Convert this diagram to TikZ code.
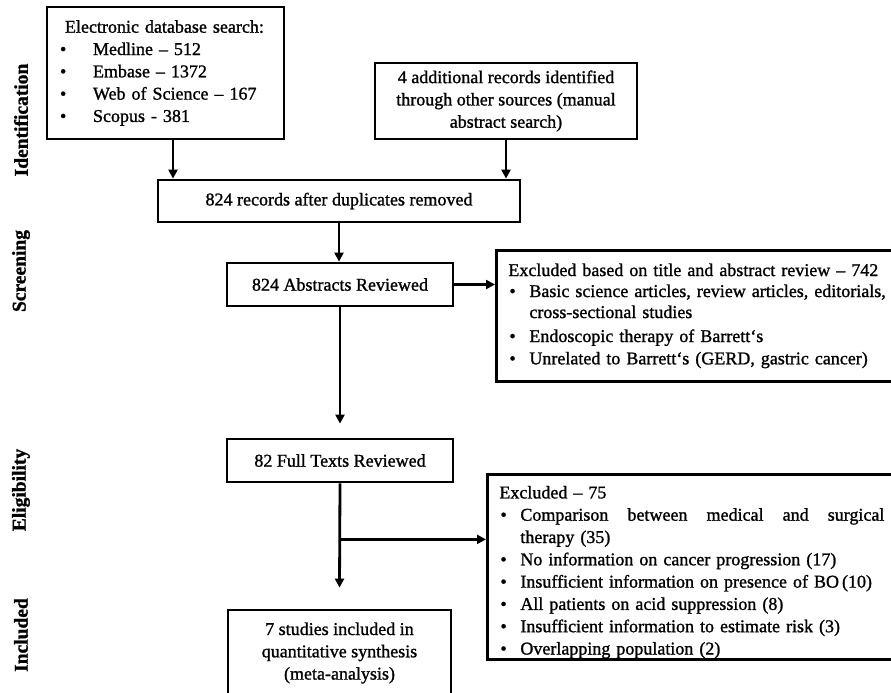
\documentclass[tikz,border=0pt]{standalone}
\usepackage{fontspec}
\setmainfont{Liberation Serif}[RawFeature={embolden=1.2}]
\usetikzlibrary{arrows.meta}
\newcommand\myfs{\fontsize{18pt}{22.3pt}\selectfont}
\newcommand\bul[1]{\makebox[#1][l]{\hspace{1pt}\textbullet}}
\begin{document}
\begin{tikzpicture}[x=1pt,y=-1pt,
  box/.style={draw, line width=2.8pt, inner sep=0pt, font=\myfs},
  listbox/.style={box, anchor=north west, inner xsep=12pt, align=left},
  side/.style={rotate=90, font=\fontsize{19.5pt}{22pt}\selectfont\bfseries, inner sep=0pt},
  arr/.style={line width=2.8pt, -{Triangle[length=9pt,width=9pt]}}]
\useasboundingbox (0,0) rectangle (891,693);

% phase labels
\node[side] (lid) at (21,120) {Identification};
\node[side] (lsc) at (21,271) {Screening};
\node[side] (lel) at (21,490) {Eligibility};
\node[side] (lin) at (21,635) {Included};

% boxes
\node[box, minimum width=237pt, minimum height=132pt, text width=211pt,
      inner xsep=13pt, align=left] (db) at (165.5,73)
 {\hspace*{5pt}Electronic database search:\\
  \makebox[33pt][l]{\textbullet}Medline -- 512\\
  \makebox[33pt][l]{\textbullet}Embase -- 1372\\
  \makebox[33pt][l]{\textbullet}Web of Science -- 167\\
  \makebox[33pt][l]{\textbullet}Scopus - 381};

\node[box, minimum width=262pt, minimum height=76pt, align=center] (add) at (506,101)
 {4 additional records identified\\ through other sources (manual\\ abstract search)};

\node[box, minimum width=362pt, minimum height=42pt] (dup) at (339,201)
 {824 records after duplicates removed};

\node[box, minimum width=226pt, minimum height=43pt] (abs) at (340,284.5)
 {824 Abstracts Reviewed};

\node[box, minimum width=226pt, minimum height=43pt] (full) at (340,460.5)
 {82 Full Texts Reviewed};

\node[box, minimum width=223pt, minimum height=86pt, align=center] (inc) at (339.5,653)
 {7 studies included in\\ quantitative synthesis\\ (meta-analysis)};

\node[listbox, minimum width=440pt, minimum height=131pt, text width=416pt] (exa) at (495,249)
 {\fontsize{18pt}{21pt}\selectfont Excluded based on title and abstract review -- 742\\
  \bul{21pt}Basic science articles, review articles, editorials,\\
  \hspace*{21pt}cross-sectional studies\\[3pt]
  \bul{21pt}Endoscopic therapy of Barrett‘s\\
  \bul{21pt}Unrelated to Barrett‘s (GERD, gastric cancer)};

\node[listbox, minimum width=450pt, minimum height=185pt, text width=426pt] (exf) at (486,473)
 {\rule{0pt}{23pt}Excluded -- 75\\
  \bul{21pt}\makebox[364pt][s]{Comparison\hfill between\hfill medical\hfill and\hfill surgical}\\
  \hspace*{21pt}therapy (35)\\
  \bul{21pt}No information on cancer progression (17)\\
  \bul{21pt}Insufficient information on presence of BO\,(10)\\
  \bul{21pt}All patients on acid suppression (8)\\
  \bul{21pt}Insufficient information to estimate risk (3)\\
  \bul{21pt}Overlapping population (2)};

% connectors
\draw[arr] ([xshift=7.5pt]db.south) -- ([xshift=7.5pt]db.south |- dup.north);
\draw[arr] (add.south) -- (add.south |- dup.north);
\draw[arr] (dup.south) -- (dup.south |- abs.north);
\draw[arr] (abs.east) -- (abs.east -| exa.west);
\draw[arr] (abs.south) -- ([yshift=14pt]full.north);
\coordinate (br) at ([yshift=-56pt]full.south);
\draw[arr] (full.south) -- ([yshift=21pt]inc.north);
\draw[arr] (br) -- (br -| exf.west);
\end{tikzpicture}
\end{document}
